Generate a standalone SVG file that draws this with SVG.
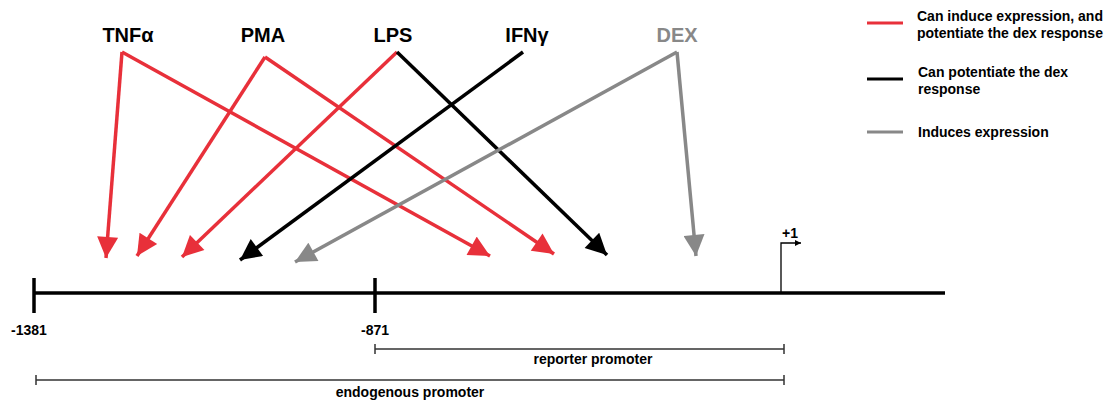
<svg xmlns="http://www.w3.org/2000/svg" width="1110" height="401" viewBox="0 0 1110 401">
<style>
.lbl{font-family:"Liberation Sans",Arial,sans-serif;font-weight:bold;font-size:20px;text-anchor:middle}
.sm{font-family:"Liberation Sans",Arial,sans-serif;font-weight:bold;font-size:14px}
.leg{font-family:"Liberation Sans",Arial,sans-serif;font-weight:bold;font-size:14px}
.r{stroke:#e8303a;stroke-width:3.5;fill:none}
.k{stroke:#000;stroke-width:3.5;fill:none}
.g{stroke:#888;stroke-width:3.5;fill:none}
</style>
<defs>
<marker id="ar" viewBox="0 0 10 10" refX="10" refY="5" markerWidth="6.6" markerHeight="6" orient="auto" markerUnits="strokeWidth"><path d="M0,0L10,5L0,10z" fill="#e8303a"/></marker>
<marker id="ak" viewBox="0 0 10 10" refX="10" refY="5" markerWidth="6.6" markerHeight="6" orient="auto" markerUnits="strokeWidth"><path d="M0,0L10,5L0,10z" fill="#000"/></marker>
<marker id="ag" viewBox="0 0 10 10" refX="10" refY="5" markerWidth="6.6" markerHeight="6" orient="auto" markerUnits="strokeWidth"><path d="M0,0L10,5L0,10z" fill="#888"/></marker>
<marker id="sa" viewBox="0 0 10 10" refX="10" refY="5" markerWidth="7" markerHeight="6" orient="auto" markerUnits="userSpaceOnUse"><path d="M0,0L10,5L0,10z" fill="#000"/></marker>
</defs>
<g id="node-TNFa"><text class="lbl" x="128" y="42">TNFα</text></g>
<g id="node-PMA"><text class="lbl" x="263" y="42">PMA</text></g>
<g id="node-LPS"><text class="lbl" x="393" y="42">LPS</text></g>
<g id="node-IFNg"><text class="lbl" x="527" y="42">IFNγ</text></g>
<g id="node-DEX"><text class="lbl" x="677" y="42" fill="#888">DEX</text></g>
<g id="connectors">
<path class="r" d="M122,52L106,258" marker-end="url(#ar)"/>
<path class="r" d="M122,52L490,256" marker-end="url(#ar)"/>
<path class="r" d="M265,57L137,256" marker-end="url(#ar)"/>
<path class="r" d="M265,57L554,254" marker-end="url(#ar)"/>
<path class="r" d="M397,52L182,257" marker-end="url(#ar)"/>
<path class="k" d="M397,52L607,255" marker-end="url(#ak)"/>
<path class="k" d="M523,52L240,260" marker-end="url(#ak)"/>
<path class="g" d="M677,52L295,262" marker-end="url(#ag)"/>
<path class="g" d="M677,52L696,256" marker-end="url(#ag)"/>
</g>
<g id="gene">
<line x1="33" y1="293" x2="945" y2="293" stroke="#000" stroke-width="3.5"/>
<line x1="34" y1="278" x2="34" y2="313" stroke="#000" stroke-width="3.5"/>
<line x1="375" y1="278" x2="375" y2="313" stroke="#000" stroke-width="3.5"/>
<path d="M781,293V243H801" fill="none" stroke="#000" stroke-width="1.3" marker-end="url(#sa)"/>
<text class="sm" x="790" y="238" text-anchor="middle" font-size="12">+1</text>
<text class="sm" x="29" y="335" text-anchor="middle">-1381</text>
<text class="sm" x="375" y="335" text-anchor="middle">-871</text>
</g>
<g id="reporter">
<path d="M375,349H784M375,344V354M784,344V354" stroke="#333" stroke-width="1.5" fill="none"/>
<text class="sm" x="593" y="364" text-anchor="middle">reporter promoter</text>
</g>
<g id="endogenous">
<path d="M36,380H784M36,375V385M784,375V385" stroke="#333" stroke-width="1.5" fill="none"/>
<text class="sm" x="410" y="397" text-anchor="middle">endogenous promoter</text>
</g>
<g id="legend">
<line x1="867" y1="23" x2="903" y2="23" stroke="#e8303a" stroke-width="3"/>
<text class="leg" x="917" y="21">Can induce expression, and</text>
<text class="leg" x="917" y="38">potentiate the dex response</text>
<line x1="867" y1="79" x2="903" y2="79" stroke="#000" stroke-width="3"/>
<text class="leg" x="918" y="77">Can potentiate the dex</text>
<text class="leg" x="918" y="94">response</text>
<line x1="867" y1="132" x2="903" y2="132" stroke="#888" stroke-width="3"/>
<text class="leg" x="918" y="137">Induces expression</text>
</g>
</svg>
